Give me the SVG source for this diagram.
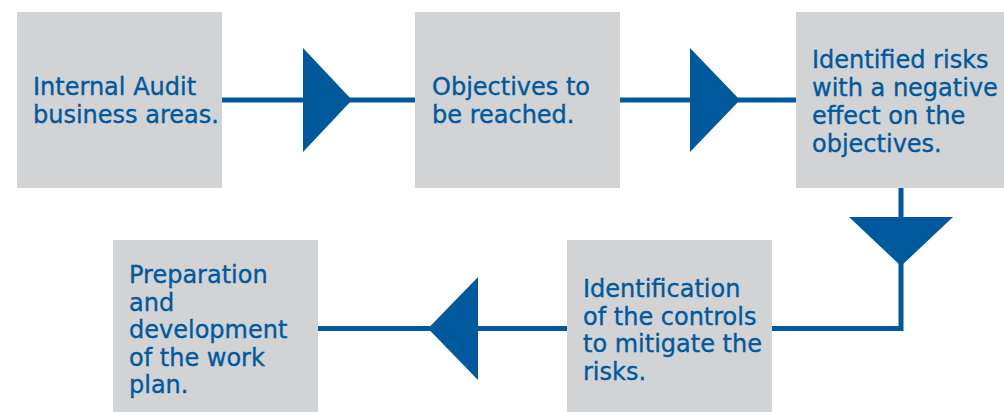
<svg xmlns="http://www.w3.org/2000/svg" width="1004" height="412" viewBox="0 0 1004 412">
<style>
.box{fill:#d1d3d4}
.lbl{font-family:"DejaVu Sans",sans-serif;font-size:24px;fill:#00599c;stroke:#00599c;stroke-width:0.35}
.ln{stroke:#00599c;stroke-width:5;fill:none}
.hd{fill:#00599c}
</style>
<rect width="1004" height="412" fill="#ffffff"/>
<g id="connectors">
<line class="ln" x1="222" y1="100" x2="415" y2="100"/>
<polygon class="hd" points="303,48 352,100 303,152"/>
<line class="ln" x1="620" y1="100" x2="796" y2="100"/>
<polygon class="hd" points="690,48 740,100 690,152"/>
<polyline class="ln" points="901,188 901,328.5 772,328.5"/>
<polygon class="hd" points="849,217 953,217 901,266"/>
<line class="ln" x1="567" y1="328.5" x2="318" y2="328.5"/>
<polygon class="hd" points="478,277 428,328.5 478,380"/>
</g>
<g id="n1">
<rect class="box" x="17" y="12" width="205" height="176"/>
<text class="lbl" x="33" y="95">Internal Audit</text>
<text class="lbl" x="33" y="123">business areas.</text>
</g>
<g id="n2">
<rect class="box" x="415" y="12" width="205" height="176"/>
<text class="lbl" x="432" y="95">Objectives to</text>
<text class="lbl" x="432" y="123">be reached.</text>
</g>
<g id="n3">
<rect class="box" x="796" y="12" width="208" height="176"/>
<text class="lbl" x="812" y="68">Identified risks</text>
<text class="lbl" x="812" y="96">with a negative</text>
<text class="lbl" x="812" y="124">effect on the</text>
<text class="lbl" x="812" y="152">objectives.</text>
</g>
<g id="n4">
<rect class="box" x="567" y="240" width="205" height="172"/>
<text class="lbl" x="583" y="297">Identification</text>
<text class="lbl" x="583" y="325">of the controls</text>
<text class="lbl" x="583" y="352">to mitigate the</text>
<text class="lbl" x="583" y="380">risks.</text>
</g>
<g id="n5">
<rect class="box" x="113" y="240" width="205" height="172"/>
<text class="lbl" x="129" y="283">Preparation</text>
<text class="lbl" x="129" y="310.5">and</text>
<text class="lbl" x="129" y="338">development</text>
<text class="lbl" x="129" y="365.5">of the work</text>
<text class="lbl" x="129" y="393">plan.</text>
</g>
</svg>
